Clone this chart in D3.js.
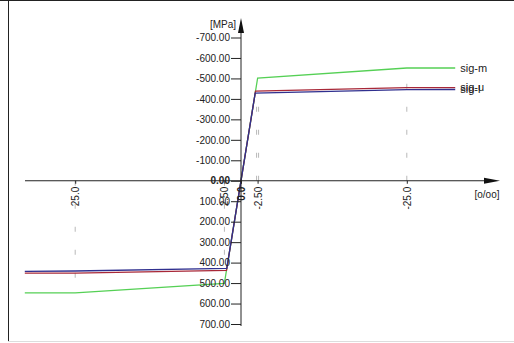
<!DOCTYPE html>
<html>
<head>
<meta charset="utf-8">
<script src="https://cdn.jsdelivr.net/npm/d3@7"></script>
<style>
  body { margin: 0; background: #fff; }
  svg text { font-family: Arial, "Liberation Sans", sans-serif; font-size: 10px; fill: #222; }
</style>
</head>
<body>
<div id="chart"></div>
<script>
var svgWidth = 514;
var svgHeight = 343;

// Data: strain [o/oo] and stress [MPa] per curve
var seriesNames = ["sig-m", "sig-u", "sig-l"];
var seriesColors = ["#55d055", "#a82838", "#30308f"];
var strainM = [32.6, 25, 2.51, -2.51, -25, -32.3];
var stressM = [548, 548, 502, -502, -551, -551];
var strainU = [32.6, 25, 2.19, -2.19, -25, -32.3];
var stressU = [451, 451, 438, -438, -455, -455];
var strainL = [32.6, 25, 2.14, -2.14, -25, -32.3];
var stressL = [443, 441, 428, -428, -445, -446];

var yTicks = [-700, -600, -500, -400, -300, -200, -100, 0, 100, 200, 300, 400, 500, 600, 700];
var xTicks = [25, 2.5, 0, -2.5, -25];
var xTickLabels = ["25.0", "2.50", "0.0", "-2.50", "-25.0"];

var series = [
  { name: seriesNames[0], color: seriesColors[0], points: strainM.map((s, i) => ({ e: s, s: stressM[i] })) },
  { name: seriesNames[1], color: seriesColors[1], points: strainU.map((s, i) => ({ e: s, s: stressU[i] })) },
  { name: seriesNames[2], color: seriesColors[2], points: strainL.map((s, i) => ({ e: s, s: stressL[i] })) }
];

var svg = d3.select("#chart")
  .append("svg")
  .attr("width", svgWidth)
  .attr("height", svgHeight);

// frame
svg.append("line").attr("x1", 0).attr("x2", svgWidth).attr("y1", 0.5).attr("y2", 0.5)
  .attr("stroke", "#222");
svg.append("line").attr("x1", 8.5).attr("x2", 8.5).attr("y1", 0).attr("y2", 341)
  .attr("stroke", "#222");
svg.append("line").attr("x1", 8).attr("x2", svgWidth).attr("y1", 341.5).attr("y2", 341.5)
  .attr("stroke", "#ddd");

// scales (both axes reversed: compression up and right)
var xScale = d3.scaleLinear()
  .domain([25, -25])
  .range([75.2, 406.8]);

var yScale = d3.scaleLinear()
  .domain([-700, 700])
  .range([37.5, 324]);

var x0 = xScale(0);
var y0 = yScale(0);

// dashed guide lines at strain ticks
var guides = [
  { e: 25, to: 278 },
  { e: 2.5, to: 272 },
  { e: -2.5, to: 100, dbl: true },
  { e: -25, to: 80 }
];
guides.forEach(function(g) {
  var offs = g.dbl ? [-1, 1] : [0];
  offs.forEach(function(o) {
    svg.append("line")
      .attr("x1", xScale(g.e) + o).attr("x2", xScale(g.e) + o)
      .attr("y1", y0).attr("y2", g.to)
      .attr("stroke", "#b8b8b8")
      .attr("stroke-width", 1)
      .attr("stroke-dasharray", "5,18");
  });
});

// curves
var line = d3.line()
  .x(d => xScale(d.e))
  .y(d => yScale(d.s));

svg.selectAll(".curve")
  .data(series)
  .enter()
  .append("path")
  .attr("class", "curve")
  .attr("d", d => line(d.points))
  .attr("fill", "none")
  .attr("stroke", d => d.color)
  .attr("stroke-width", 1.3);

// curve labels at the right end
svg.selectAll(".clabel")
  .data(series)
  .enter()
  .append("text")
  .attr("class", "clabel")
  .attr("x", d => xScale(d.points[d.points.length - 1].e) + 5)
  .attr("y", d => yScale(d.points[d.points.length - 1].s))
  .attr("dy", "0.35em")
  .style("font-size", "11px")
  .text(d => d.name);

// y axis
var leftAxis = d3.axisLeft(yScale)
  .tickValues(yTicks)
  .tickSize(10)
  .tickPadding(1)
  .tickFormat(d => d.toFixed(2));

var yAxisG = svg.append("g")
  .attr("transform", `translate(${x0}, 0)`)
  .call(leftAxis);
yAxisG.select(".domain").remove();
yAxisG.selectAll("line").attr("stroke", "#222");
yAxisG.selectAll("text")
  .style("font-family", "Arial, 'Liberation Sans', sans-serif")
  .style("font-size", "10px")
  .attr("fill", "#222")
  .style("font-weight", d => d === 0 ? "bold" : "normal");

svg.append("line")
  .attr("x1", x0).attr("x2", x0)
  .attr("y1", 26).attr("y2", 326)
  .attr("stroke", "#222");
svg.append("path")
  .attr("d", `M${x0},18 L${x0 - 3},33 L${x0 + 3},33 Z`)
  .attr("fill", "#111");
svg.append("text")
  .attr("x", x0 - 5)
  .attr("y", 28)
  .style("text-anchor", "end")
  .text("[MPa]");

// x axis
var bottomAxis = d3.axisBottom(xScale)
  .tickValues(xTicks)
  .tickSize(3)
  .tickFormat((d, i) => xTickLabels[i]);

var xAxisG = svg.append("g")
  .attr("transform", `translate(0, ${y0})`)
  .call(bottomAxis);
xAxisG.select(".domain").remove();
xAxisG.selectAll("line").attr("stroke", "#222");
xAxisG.selectAll("text")
  .attr("transform", "rotate(-90)")
  .attr("x", -6)
  .attr("y", 0)
  .attr("dy", "0.35em")
  .style("text-anchor", "end")
  .style("font-family", "Arial, 'Liberation Sans', sans-serif")
  .style("font-size", "10px")
  .attr("fill", "#222")
  .style("font-weight", d => d === 0 ? "bold" : "normal");

svg.append("line")
  .attr("x1", 25).attr("x2", 488)
  .attr("y1", y0).attr("y2", y0)
  .attr("stroke", "#222");
svg.append("path")
  .attr("d", `M500,${y0} L484,${y0 - 3} L484,${y0 + 3} Z`)
  .attr("fill", "#111");
svg.append("text")
  .attr("x", 487)
  .attr("y", y0 + 17)
  .style("text-anchor", "middle")
  .text("[o/oo]");
</script>
</body>
</html>
